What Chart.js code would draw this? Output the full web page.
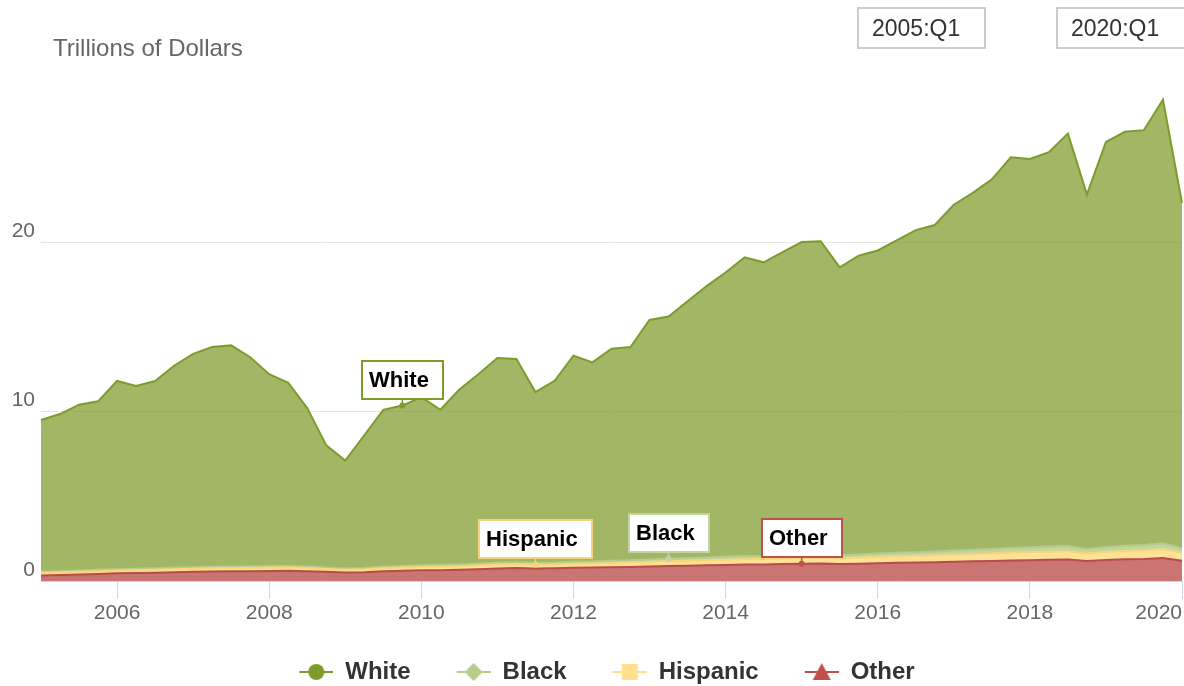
<!DOCTYPE html>
<html>
<head>
<meta charset="utf-8">
<script src="https://cdn.jsdelivr.net/npm/chart.js@4.4.1/dist/chart.umd.min.js"></script>
<style>
  body { margin: 0; background: #fff; font-family: "Liberation Sans", Arial, sans-serif; }
  #wrap { position: relative; width: 1184px; height: 686px; overflow: hidden; }
  #chart { position: absolute; left: 0; top: 0; }
  .title { position: absolute; left: 53px; top: 35px; font-size: 24px; line-height: 26px; color: #666; }
  .range { position: absolute; top: 7px; height: 38px; border: 2px solid #ccc; font-size: 23px; line-height: 38px; color: #333; padding-left: 13px; }
</style>
</head>
<body>
<div id="wrap">
  <canvas id="chart" width="1184" height="686"></canvas>
  <div class="title">Trillions of Dollars</div>
  <div class="range" style="left:857px;width:112px">2005:Q1</div>
  <div class="range" style="left:1056px;width:140px">2020:Q1</div>
</div>
<script>
// quarterly, 2005:Q1 .. 2020:Q1, trillions of dollars
var years = [2005, 2006, 2007, 2008, 2009, 2010, 2011, 2012, 2013, 2014, 2015, 2016, 2017, 2018, 2019, 2020];
var quarters = [];
years.forEach(function(y) {
  for (var q = 1; q <= 4; q++) {
    if (y === 2020 && q > 1) return;
    quarters.push(y + ':Q' + q);
  }
});

var white = [
  8.96, 9.27, 9.78, 9.94,
  11.11, 10.78, 11.05, 11.91,
  12.59, 12.96, 13.04, 12.33,
  11.32, 10.81, 9.35, 7.21,
  6.36, 7.83, 9.26, 9.47,
  9.92, 9.16, 10.33, 11.17,
  12.07, 12.00, 10.08, 10.71,
  12.16, 11.75, 12.51, 12.58,
  14.13, 14.29, 15.16, 16.01,
  16.77, 17.63, 17.32, 17.88,
  18.44, 18.47, 16.98, 17.63,
  17.88, 18.44, 19.00, 19.26,
  20.40, 21.06, 21.81, 23.05,
  22.91, 23.27, 24.34, 20.91,
  23.90, 24.42, 24.48, 26.17,
  20.36
];
var black = [
  0.07, 0.07, 0.08, 0.08,
  0.08, 0.08, 0.09, 0.09,
  0.09, 0.09, 0.10, 0.10,
  0.10, 0.10, 0.09, 0.08,
  0.08, 0.08, 0.09, 0.09,
  0.10, 0.10, 0.10, 0.11,
  0.11, 0.11, 0.11, 0.11,
  0.12, 0.12, 0.13, 0.13,
  0.14, 0.15, 0.15, 0.16,
  0.17, 0.18, 0.18, 0.19,
  0.20, 0.20, 0.19, 0.20,
  0.21, 0.22, 0.23, 0.24,
  0.25, 0.26, 0.27, 0.28,
  0.29, 0.30, 0.30, 0.27,
  0.29, 0.31, 0.32, 0.34,
  0.29
];
var hispanic = [
  0.14, 0.15, 0.15, 0.16,
  0.16, 0.17, 0.17, 0.18,
  0.18, 0.19, 0.19, 0.19,
  0.19, 0.19, 0.18, 0.17,
  0.16, 0.17, 0.18, 0.19,
  0.20, 0.20, 0.21, 0.22,
  0.23, 0.23, 0.22, 0.23,
  0.24, 0.24, 0.25, 0.26,
  0.27, 0.28, 0.29, 0.30,
  0.31, 0.32, 0.32, 0.33,
  0.34, 0.35, 0.33, 0.35,
  0.36, 0.37, 0.38, 0.39,
  0.41, 0.42, 0.44, 0.46,
  0.47, 0.48, 0.49, 0.44,
  0.47, 0.49, 0.50, 0.53,
  0.45
];
var other = [
  0.33, 0.36, 0.39, 0.42,
  0.45, 0.47, 0.49, 0.52,
  0.54, 0.56, 0.57, 0.58,
  0.59, 0.60, 0.58, 0.54,
  0.50, 0.52, 0.57, 0.60,
  0.63, 0.64, 0.66, 0.70,
  0.74, 0.76, 0.74, 0.75,
  0.78, 0.79, 0.81, 0.83,
  0.86, 0.88, 0.90, 0.93,
  0.95, 0.97, 0.98, 1.00,
  1.02, 1.03, 1.00, 1.02,
  1.05, 1.07, 1.09, 1.11,
  1.14, 1.16, 1.18, 1.21,
  1.23, 1.25, 1.27, 1.18,
  1.24, 1.28, 1.30, 1.36,
  1.20
];
var yTicks = [0, 10, 20];

// flags sitting on the series (dataset index, quarter)
var flags = [
  { series: 3, quarter: '2009:Q4', text: 'White', color: '#7d9b2a' },
  { series: 1, quarter: '2011:Q3', text: 'Hispanic', color: '#f5d57c' },
  { series: 2, quarter: '2013:Q2', text: 'Black', color: '#c3d4a0' },
  { series: 0, quarter: '2015:Q1', text: 'Other', color: '#c0504d' }
];

var FONT = '"Liberation Sans", Arial, sans-serif';
var LEGEND_GAP = 36; // empty space in front of each legend symbol

function legendSymbol(shape, color) {
  var c = document.createElement('canvas');
  c.width = LEGEND_GAP + 34; c.height = 20;
  var g = c.getContext('2d');
  g.translate(LEGEND_GAP, 0);
  g.strokeStyle = color; g.lineWidth = 2;
  g.beginPath(); g.moveTo(0, 10); g.lineTo(34, 10); g.stroke();
  g.fillStyle = color;
  g.beginPath();
  if (shape === 'circle') g.arc(17, 10, 8, 0, 2 * Math.PI);
  else if (shape === 'diamond') { g.moveTo(17, 1); g.lineTo(26, 10); g.lineTo(17, 19); g.lineTo(8, 10); g.closePath(); }
  else if (shape === 'square') g.rect(9, 2, 16, 16);
  else { g.moveTo(17, 1); g.lineTo(26, 18); g.lineTo(8, 18); g.closePath(); }
  g.fill();
  return c;
}

var names = ['Other', 'Hispanic', 'Black', 'White'];
var symbols = [
  legendSymbol('triangle', '#c0504d'),
  legendSymbol('square', '#ffe08f'),
  legendSymbol('diamond', '#b8cc8c'),
  legendSymbol('circle', '#7d9b2a')
];

var flagPlugin = {
  id: 'flags',
  afterDatasetsDraw: function(chart) {
    var ctx = chart.ctx;
    ctx.save();
    ctx.font = 'bold 22px ' + FONT;
    flags.forEach(function(f) {
      var pt = chart.getDatasetMeta(f.series).data[quarters.indexOf(f.quarter)];
      var w = Math.round(ctx.measureText(f.text).width + 21);
      var h = 38;
      var left = Math.round(pt.x - w / 2), bottom = Math.round(pt.y - 7), top = bottom - h;
      ctx.strokeStyle = f.color;
      ctx.lineWidth = 1.5;
      ctx.beginPath(); ctx.moveTo(pt.x, bottom); ctx.lineTo(pt.x, pt.y); ctx.stroke();
      ctx.fillStyle = '#fff';
      ctx.fillRect(left, top, w, h);
      ctx.lineWidth = 2;
      ctx.strokeRect(left, top, w, h);
      ctx.fillStyle = '#000';
      ctx.textAlign = 'left';
      ctx.textBaseline = 'middle';
      ctx.fillText(f.text, left + 7, top + h / 2 + 1);
      ctx.beginPath(); ctx.arc(pt.x, pt.y, 3, 0, 2 * Math.PI);
      ctx.fillStyle = f.color; ctx.fill();
    });
    ctx.restore();
  }
};

function isYearTick(i) {
  var l = quarters[i];
  return l && l.slice(5) === 'Q1' && (+l.slice(0, 4)) % 2 === 0;
}

new Chart(document.getElementById('chart'), {
  type: 'line',
  data: {
    labels: quarters,
    datasets: [
      { label: 'Other', data: other, fill: 'origin', borderColor: '#b84c4a', backgroundColor: 'rgba(184,70,68,0.75)' },
      { label: 'Hispanic', data: hispanic, fill: '-1', borderColor: '#fbd676', backgroundColor: 'rgba(255,218,125,0.8)' },
      { label: 'Black', data: black, fill: '-1', borderColor: '#b6cb8d', backgroundColor: 'rgba(175,200,125,0.75)' },
      { label: 'White', data: white, fill: '-1', borderColor: '#7d9b2a', backgroundColor: 'rgba(125,155,42,0.72)' }
    ]
  },
  options: {
    responsive: false,
    animation: false,
    events: [],
    // negative left padding recentres the legend; the y axis width makes up for it
    layout: { padding: { top: 72.5, left: -8, right: -2, bottom: 0 } },
    elements: {
      point: { radius: 0 },
      line: { tension: 0, borderWidth: 2 }
    },
    scales: {
      x: {
        type: 'category',
        offset: false,
        grid: {
          drawOnChartArea: false,
          drawTicks: true,
          tickLength: 18,
          color: function(c) { return isYearTick(c.index) ? '#ccd6eb' : 'rgba(0,0,0,0)'; }
        },
        border: { color: '#ccd6eb', width: 1 },
        ticks: {
          autoSkip: false, maxRotation: 0, minRotation: 0, align: 'inner', padding: 2,
          color: '#666', font: { family: FONT, size: 21 },
          callback: function(v, i) { return isYearTick(i) ? quarters[i].slice(0, 4) : ''; }
        },
        afterFit: function(s) { s.height = 69; }
      },
      y: {
        stacked: true,
        min: 0,
        max: 30,
        afterBuildTicks: function(s) { s.ticks = yTicks.map(function(v) { return { value: v }; }); },
        grid: { color: '#e6e6e6', drawTicks: false },
        border: { display: false },
        ticks: { padding: 6, labelOffset: -11, color: '#666', font: { family: FONT, size: 21 } },
        afterFit: function(s) { s.width = 49; }
      }
    },
    plugins: {
      tooltip: { enabled: false },
      legend: {
        position: 'bottom',
        maxHeight: 36,
        labels: {
          usePointStyle: true,
          pointStyleWidth: LEGEND_GAP + 34,
          padding: 10,
          color: '#333',
          font: { family: FONT, size: 24, weight: 'bold' },
          generateLabels: function() {
            return [3, 2, 1, 0].map(function(i) {
              return { text: names[i], pointStyle: symbols[i], fillStyle: '#fff', strokeStyle: '#fff', lineWidth: 0, hidden: false, datasetIndex: i, fontColor: '#333' };
            });
          }
        }
      }
    }
  },
  plugins: [flagPlugin]
});
</script>
</body>
</html>
